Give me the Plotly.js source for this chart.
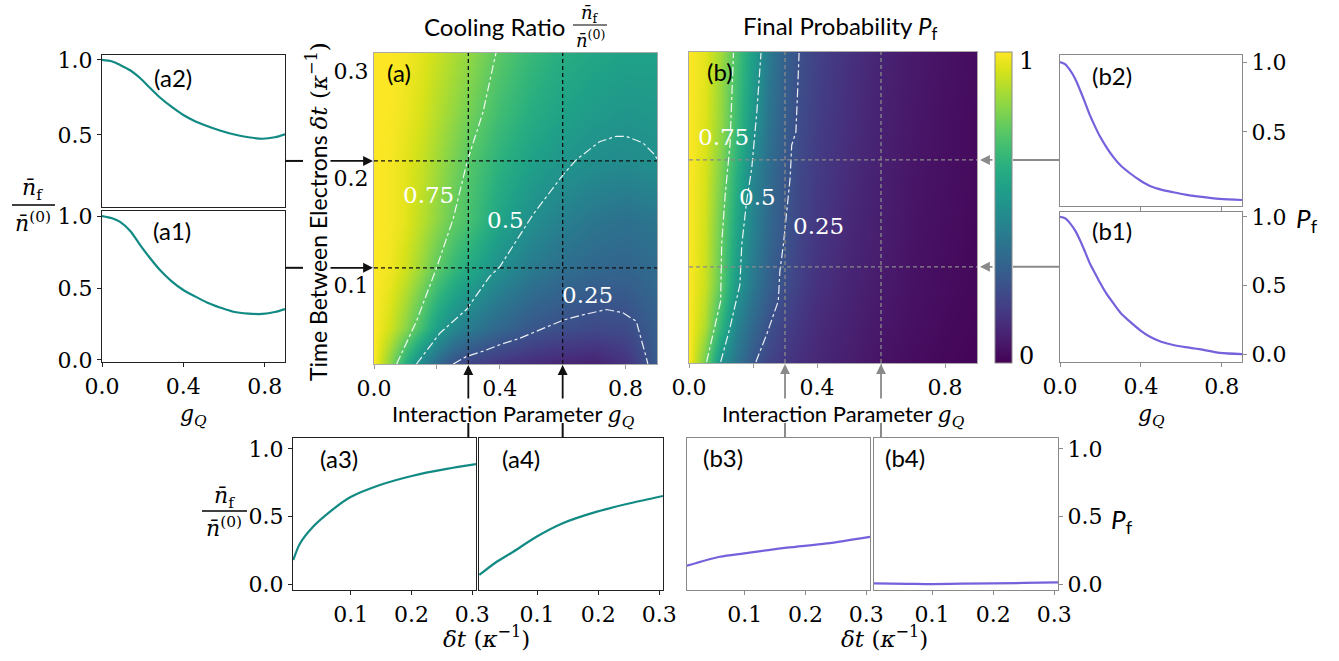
<!DOCTYPE html>
<html><head><meta charset="utf-8">
<script src="https://cdn.plot.ly/plotly-3.0.1.min.js"></script>
<style>body{margin:0;background:#fff}</style>
</head><body>
<div id="chart" style="width:1339px;height:661px"></div>
<script>
// ---------------- data ----------------
// line cuts versus g_Q
const gCutA = [0, 0.05, 0.089, 0.14, 0.187, 0.235, 0.285, 0.34, 0.4, 0.46, 0.516, 0.58, 0.646, 0.72, 0.79, 0.85, 0.9];
const a1Vals = [1.0, 0.985, 0.96, 0.895, 0.80, 0.71, 0.625, 0.55, 0.486, 0.44, 0.40, 0.365, 0.335, 0.322, 0.32, 0.333, 0.354];
const a2Vals = [1.0, 0.99, 0.967, 0.93, 0.88, 0.815, 0.75, 0.69, 0.633, 0.59, 0.56, 0.53, 0.505, 0.485, 0.475, 0.485, 0.505];
const gCutB = [0, 0.025, 0.049, 0.075, 0.099, 0.124, 0.148, 0.173, 0.198, 0.23, 0.264, 0.3, 0.346, 0.395, 0.445, 0.5, 0.56, 0.62, 0.69, 0.79, 0.9];
const b2Vals = [1.0, 0.985, 0.943, 0.88, 0.80, 0.71, 0.62, 0.54, 0.467, 0.39, 0.32, 0.26, 0.205, 0.155, 0.114, 0.088, 0.069, 0.052, 0.038, 0.022, 0.014];
const b1Vals = [1.0, 0.99, 0.955, 0.90, 0.83, 0.745, 0.66, 0.59, 0.52, 0.44, 0.37, 0.30, 0.236, 0.175, 0.126, 0.09, 0.066, 0.05, 0.036, 0.008, 0.0];
// line cuts versus delta t
const tA3 = [0.0055, 0.0165, 0.038, 0.066, 0.099, 0.148, 0.202, 0.258, 0.306];
const a3Vals = [0.178, 0.30, 0.424, 0.536, 0.642, 0.733, 0.802, 0.852, 0.887];
const tA4 = [0.0055, 0.034, 0.061, 0.099, 0.142, 0.198, 0.252, 0.306];
const a4Vals = [0.067, 0.165, 0.239, 0.35, 0.45, 0.536, 0.598, 0.652];
const tB3 = [0.005, 0.059, 0.099, 0.169, 0.235, 0.306];
const b3Vals = [0.136, 0.202, 0.227, 0.269, 0.301, 0.35];
const tB4 = [0.005, 0.06, 0.1, 0.15, 0.25, 0.306];
const b4Vals = [0.005, 0.002, 0.0, 0.003, 0.008, 0.012];
// slice positions
const sliceG = [0.3, 0.6];
const sliceT = [0.116, 0.216];
// heatmap (a): cooling ratio
const gGridA = [0, 0.05, 0.1, 0.15, 0.2, 0.25, 0.3, 0.4, 0.5, 0.6, 0.7, 0.8, 0.9];
const tGridA = [0.026, 0.06, 0.116, 0.16, 0.216, 0.26, 0.317];
const zA = [
  [1, .82, .63, .46, .34, .25, .20, .15, .12, .10, .09, .14, .29],
  [1, .93, .83, .70, .56, .47, .41, .33, .27, .24, .22, .23, .30],
  [1, .98, .93, .85, .75, .67, .61, .49, .41, .36, .33, .32, .35],
  [1, .99, .96, .90, .83, .76, .71, .58, .49, .43, .39, .37, .39],
  [1, .99, .96, .92, .86, .80, .74, .64, .57, .52, .49, .475, .50],
  [1, .995, .975, .94, .89, .84, .79, .69, .62, .57, .54, .52, .53],
  [1, 1, .985, .96, .92, .88, .84, .74, .67, .62, .59, .57, .57]
];
// heatmap (b): final probability
const gGridB = [0, 0.05, 0.1, 0.15, 0.2, 0.25, 0.3, 0.35, 0.4, 0.5, 0.6, 0.7, 0.8, 0.9];
const tGridB = [0.026, 0.06, 0.1, 0.15, 0.2, 0.25, 0.3, 0.317];
const zB = [
  [1, .78, .50, .38, .27, .20, .16, .13, .11, .08, .05, .03, .02, .01],
  [1, .88, .65, .44, .33, .245, .19, .15, .12, .09, .06, .04, .025, .015],
  [1, .92, .75, .53, .40, .30, .235, .18, .14, .10, .07, .045, .03, .02],
  [1, .93, .77, .58, .44, .33, .26, .20, .16, .11, .08, .05, .035, .02],
  [1, .94, .80, .62, .45, .35, .27, .21, .17, .12, .085, .055, .04, .025],
  [1, .95, .84, .68, .52, .38, .29, .225, .18, .13, .09, .06, .04, .025],
  [1, .96, .85, .70, .55, .40, .30, .235, .19, .135, .095, .065, .045, .03],
  [1, .96, .86, .71, .56, .41, .305, .24, .19, .14, .10, .065, .045, .03]
];
// contour lines
const cA75g = [.072, .135, .199, .252, .296, .347, .384, .388];
const cA75t = [.026, .066, .116, .162, .215, .262, .312, .317];
const cA50g = [.135, .21, .294, .368, .4, .506, .601, .643, .717, .77, .802, .855, .892, .9];
const cA50t = [.026, .055, .077, .108, .117, .166, .203, .217, .234, .239, .239, .233, .222, .218];
const cA25g = [.252, .294, .347, .4, .463, .527, .601, .664, .739, .791, .834, .866, .871];
const cA25t = [.026, .033, .038, .044, .05, .058, .067, .072, .077, .074, .066, .032, .026];
const cB75g = [.055, .076, .099, .102, .113, .128, .133, .139];
const cB75t = [.027, .053, .084, .137, .183, .23, .277, .316];
const cB50g = [.099, .128, .159, .165, .18, .196, .212, .222, .225];
const cB50t = [.027, .059, .099, .137, .177, .208, .261, .299, .316];
const cB25g = [.209, .243, .279, .284, .295, .316, .321, .334, .339, .344];
const cB25t = [.027, .053, .084, .112, .137, .199, .23, .242, .277, .316];

// ---------------- helpers ----------------
const W = 1339, H = 661;
const X = p => p / W, Y = p => 1 - p / H;
const SERIF = 'DejaVu Serif';
const SANS = 'Lato';
const TEAL = '#128a84';
const PURP = '#7462dc';
const DARK = '#222';
const GRAY = '#8a8a8a';

function axis(dom, range, o) {
  return Object.assign({
    domain: dom, range: range, showgrid: false, zeroline: false,
    showline: true, mirror: true, linecolor: DARK, linewidth: 1.2,
    ticks: 'outside', ticklen: 4, tickcolor: DARK, tickwidth: 1,
    tickfont: {family: SERIF, size: 22, color: '#000'}, fixedrange: true
  }, o);
}
const gTicks = {tickvals: [0, 0.4, 0.8], ticktext: ['0.0', '0.4', '0.8']};
const tTicks = {tickvals: [0.1, 0.2, 0.3], ticktext: ['0.1', '0.2', '0.3']};
const pTicks = {tickvals: [0, 0.5, 1], ticktext: ['0.0', '0.5', '1.0']};
const pTicks2 = {tickvals: [0.5, 1], ticktext: ['0.5', '1.0']};

// ---------------- traces ----------------
const traces = [];
traces.push({type: 'heatmap', x: gGridA, y: tGridA, z: zA, xaxis: 'x3', yaxis: 'y3',
  colorscale: 'Viridis', zmin: 0, zmax: 1, zsmooth: 'best', showscale: false, hoverinfo: 'skip'});
traces.push({type: 'heatmap', x: gGridB, y: tGridB, z: zB, xaxis: 'x4', yaxis: 'y4',
  colorscale: 'Viridis', zmin: 0, zmax: 1, zsmooth: 'best', showscale: true, hoverinfo: 'skip',
  colorbar: {x: X(995), xanchor: 'left', xpad: 0, ypad: 0, y: Y(207.5), yanchor: 'middle',
    len: 311 / H, lenmode: 'fraction', thickness: 17, thicknessmode: 'pixels',
    outlinewidth: 1, outlinecolor: GRAY, showticklabels: false, ticks: ''}});
const cl = {color: 'rgba(255,255,255,0.9)', width: 1.2, dash: 'dashdot'};
[[cA75g, cA75t], [cA50g, cA50t], [cA25g, cA25t]].forEach(c =>
  traces.push({type: 'scatter', mode: 'lines', x: c[0], y: c[1], xaxis: 'x3', yaxis: 'y3', line: cl, hoverinfo: 'skip'}));
[[cB75g, cB75t], [cB50g, cB50t], [cB25g, cB25t]].forEach(c =>
  traces.push({type: 'scatter', mode: 'lines', x: c[0], y: c[1], xaxis: 'x4', yaxis: 'y4', line: cl, hoverinfo: 'skip'}));
function ln(x, y, ax, color) {
  traces.push({type: 'scatter', mode: 'lines', x: x, y: y, xaxis: 'x' + ax, yaxis: 'y' + ax,
    line: {color: color, width: 2.2, shape: 'spline', smoothing: 0.8}, hoverinfo: 'skip'});
}
ln(gCutA, a2Vals, '', TEAL);
ln(gCutA, a1Vals, '2', TEAL);
ln(gCutB, b2Vals, '5', PURP);
ln(gCutB, b1Vals, '6', PURP);
ln(tA3, a3Vals, '7', TEAL);
ln(tA4, a4Vals, '8', TEAL);
ln(tB3, b3Vals, '9', PURP);
ln(tB4, b4Vals, '10', PURP);

// ---------------- layout ----------------
const gR = [0, 0.9], tR = [0.026, 0.317], dR = [0.005, 0.306], bR = [-0.044, 1.081];
const layout = {
  width: W, height: H, margin: {l: 0, r: 0, t: 0, b: 0}, showlegend: false,
  paper_bgcolor: '#fff', plot_bgcolor: '#fff',
  xaxis: axis([X(102), X(285)], gR, {anchor: 'y', showticklabels: false, ticks: ''}),
  yaxis: axis([Y(207), Y(55)], [0.02, 1.033], Object.assign({anchor: 'x'}, pTicks2)),
  xaxis2: axis([X(102), X(285)], gR, Object.assign({anchor: 'y2'}, gTicks)),
  yaxis2: axis([Y(362), Y(211)], [-0.014, 1.035], Object.assign({anchor: 'x2'}, pTicks)),
  xaxis3: axis([X(374), X(657)], gR, {anchor: 'y3', linecolor: '#aaa', tickcolor: '#999',
    tickvals: [0, 0.2, 0.4, 0.6, 0.8], ticktext: ['0.0', '', '0.4', '', '0.8']}),
  yaxis3: axis([Y(364), Y(53)], tR, Object.assign({anchor: 'x3', linecolor: '#aaa', ticks: ''}, tTicks)),
  xaxis4: axis([X(689), X(977)], gR, {anchor: 'y4', linecolor: '#aaa', tickcolor: '#999',
    tickvals: [0, 0.2, 0.4, 0.6, 0.8], ticktext: ['0.0', '', '0.4', '', '0.8']}),
  yaxis4: axis([Y(363), Y(52)], tR, {anchor: 'x4', linecolor: '#aaa', ticks: '', showticklabels: false}),
  xaxis5: axis([X(1060), X(1242)], gR, {anchor: 'y5', linecolor: GRAY, tickcolor: GRAY, showticklabels: false,
    tickvals: [0.4, 0.8]}),
  yaxis5: axis([Y(206), Y(55)], [-0.029, 1.05], Object.assign({anchor: 'x5', side: 'right', linecolor: GRAY, tickcolor: GRAY}, pTicks2)),
  xaxis6: axis([X(1060), X(1242)], gR, Object.assign({anchor: 'y6', linecolor: GRAY, tickcolor: GRAY}, gTicks)),
  yaxis6: axis([Y(362), Y(212)], [-0.058, 1.036], Object.assign({anchor: 'x6', side: 'right', linecolor: GRAY, tickcolor: GRAY}, pTicks)),
  xaxis7: axis([X(293), X(476)], dR, Object.assign({anchor: 'y7'}, tTicks)),
  yaxis7: axis([Y(590), Y(438)], bR, Object.assign({anchor: 'x7'}, pTicks)),
  xaxis8: axis([X(479), X(663)], dR, Object.assign({anchor: 'y8'}, tTicks)),
  yaxis8: axis([Y(590), Y(438)], bR, {anchor: 'x8', showticklabels: false, ticks: ''}),
  xaxis9: axis([X(687), X(870)], dR, Object.assign({anchor: 'y9', linecolor: GRAY, tickcolor: GRAY}, tTicks)),
  yaxis9: axis([Y(590), Y(438)], bR, {anchor: 'x9', showticklabels: false, ticks: '', linecolor: GRAY}),
  xaxis10: axis([X(874), X(1058)], dR, Object.assign({anchor: 'y10', linecolor: GRAY, tickcolor: GRAY}, tTicks)),
  yaxis10: axis([Y(590), Y(438)], bR, Object.assign({anchor: 'x10', side: 'right', linecolor: GRAY, tickcolor: GRAY}, pTicks)),
  shapes: [], annotations: []
};

// dashed slice lines on the heatmaps
sliceG.forEach(g => {
  layout.shapes.push({type: 'line', xref: 'x3', yref: 'y3 domain', x0: g, x1: g, y0: 0, y1: 1, line: {color: '#111', width: 1.3, dash: '4px,3px'}});
  layout.shapes.push({type: 'line', xref: 'x4', yref: 'y4 domain', x0: g, x1: g, y0: 0, y1: 1, line: {color: GRAY, width: 1.3, dash: '4px,3px'}});
});
sliceT.forEach(t => {
  layout.shapes.push({type: 'line', xref: 'x3 domain', yref: 'y3', x0: 0, x1: 1, y0: t, y1: t, line: {color: '#111', width: 1.3, dash: '4px,3px'}});
  layout.shapes.push({type: 'line', xref: 'x4 domain', yref: 'y4', x0: 0, x1: 1, y0: t, y1: t, line: {color: GRAY, width: 1.3, dash: '4px,3px'}});
});

// connectors & arrows
function seg(xref, yref, x0, x1, y0, y1, color) {
  layout.shapes.push({type: 'line', xref: xref, yref: yref, x0: x0, x1: x1, y0: y0, y1: y1, line: {color: color, width: 2}});
}
function arrow(x, xref, y, yref, ax, ay, color) {
  layout.annotations.push({x: x, y: y, xref: xref, yref: yref, ax: ax, ay: ay, text: '',
    showarrow: true, arrowhead: 2, arrowsize: 1.1, arrowwidth: 1.8, arrowcolor: color, standoff: 0});
}
sliceT.forEach(t => {
  seg('paper', 'y3', X(285), X(303), t, t, '#111');
  arrow(X(373), 'paper', t, 'y3', -44, 0, '#111');
  seg('paper', 'y4', X(1013), X(1060), t, t, GRAY);
  arrow(X(980), 'paper', t, 'y4', 14, 0, GRAY);
});
sliceG.forEach(g => {
  arrow(g, 'x3', Y(365), 'paper', 0, 35, '#111');
  seg('x3', 'paper', g, g, Y(423), Y(438), '#111');
  arrow(g, 'x4', Y(364), 'paper', 0, 36, GRAY);
  seg('x4', 'paper', g, g, Y(423), Y(438), GRAY);
});

// texts
function txt(px, py, text, size, family, extra) {
  layout.annotations.push(Object.assign({xref: 'paper', yref: 'paper', x: X(px), y: Y(py), text: text,
    showarrow: false, xanchor: 'center', yanchor: 'middle', font: {family: family, size: size, color: '#000'}}, extra || {}));
}
const nbar = '<i>n\u0304</i>';
const mathSpan = s => '<span style="font-family:DejaVu Serif">' + s + '</span>';
const gQ = mathSpan('<i>g<sub>Q</sub></i>');
// panel labels
[['(a2)', 173, 77], ['(a1)', 172, 231], ['(a)', 399, 73], ['(b)', 720, 72], ['(b2)', 1112, 75], ['(b1)', 1112, 231],
 ['(a3)', 339, 458], ['(a4)', 521, 458], ['(b3)', 723, 457], ['(b4)', 905, 457]].forEach(p => txt(p[1], p[2], p[0], 24, SANS));
// contour labels
[['0.75', 428, 195], ['0.5', 505, 220], ['0.25', 587, 295], ['0.75', 723, 137], ['0.5', 757, 197], ['0.25', 819, 226]]
  .forEach(p => txt(p[1], p[2], p[0], 23, SERIF, {font: {family: SERIF, size: 23, color: '#fff'}}));
// titles
txt(494, 27, 'Cooling Ratio', 24, SANS);
txt(590, 14, nbar + '<sub>f</sub>', 18, SERIF);
txt(590, 39, nbar + '<sup>(0)</sup>', 18, SERIF);
layout.shapes.push({type: 'line', xref: 'paper', yref: 'paper', x0: X(573), x1: X(607), y0: Y(25), y1: Y(25), line: {color: '#000', width: 1.2}});
txt(840, 28, 'Final Probability <i>P</i><sub>f</sub>', 24, SANS);
// axis titles
txt(317, 212, 'Time Between Electrons ' + mathSpan('<i>δt</i> (<i>κ</i><sup>−1</sup>)'), 23, SANS, {textangle: -90});
txt(513, 415, 'Interaction Parameter ' + gQ, 22, SANS);
txt(843, 415, 'Interaction Parameter ' + gQ, 22, SANS);
txt(193, 415, '<i>g<sub>Q</sub></i>', 22, SERIF);
txt(1151, 415, '<i>g<sub>Q</sub></i>', 22, SERIF);
txt(486, 637, '<i>δt</i> (<i>κ</i><sup>−1</sup>)', 23, SERIF);
txt(884, 637, '<i>δt</i> (<i>κ</i><sup>−1</sup>)', 23, SERIF);
// fraction labels
txt(32, 190, nbar + '<sub>f</sub>', 22, SERIF);
txt(33, 222, nbar + '<sup>(0)</sup>', 22, SERIF);
layout.shapes.push({type: 'line', xref: 'paper', yref: 'paper', x0: X(12), x1: X(55), y0: Y(205), y1: Y(205), line: {color: '#000', width: 1.3}});
txt(224, 497, nbar + '<sub>f</sub>', 22, SERIF);
txt(224, 527, nbar + '<sup>(0)</sup>', 22, SERIF);
layout.shapes.push({type: 'line', xref: 'paper', yref: 'paper', x0: X(202), x1: X(247), y0: Y(511), y1: Y(511), line: {color: '#000', width: 1.3}});
txt(1307, 220, '<i>P</i><sub>f</sub>', 26, SANS);
txt(1122, 520, '<i>P</i><sub>f</sub>', 26, SANS);
// colorbar labels
txt(1017, 61, '1', 24, SERIF, {xanchor: 'left'});
txt(1017, 356, '0', 24, SERIF, {xanchor: 'left'});

Plotly.newPlot('chart', traces, layout, {staticPlot: true, displayModeBar: false});
</script>
</body></html>
